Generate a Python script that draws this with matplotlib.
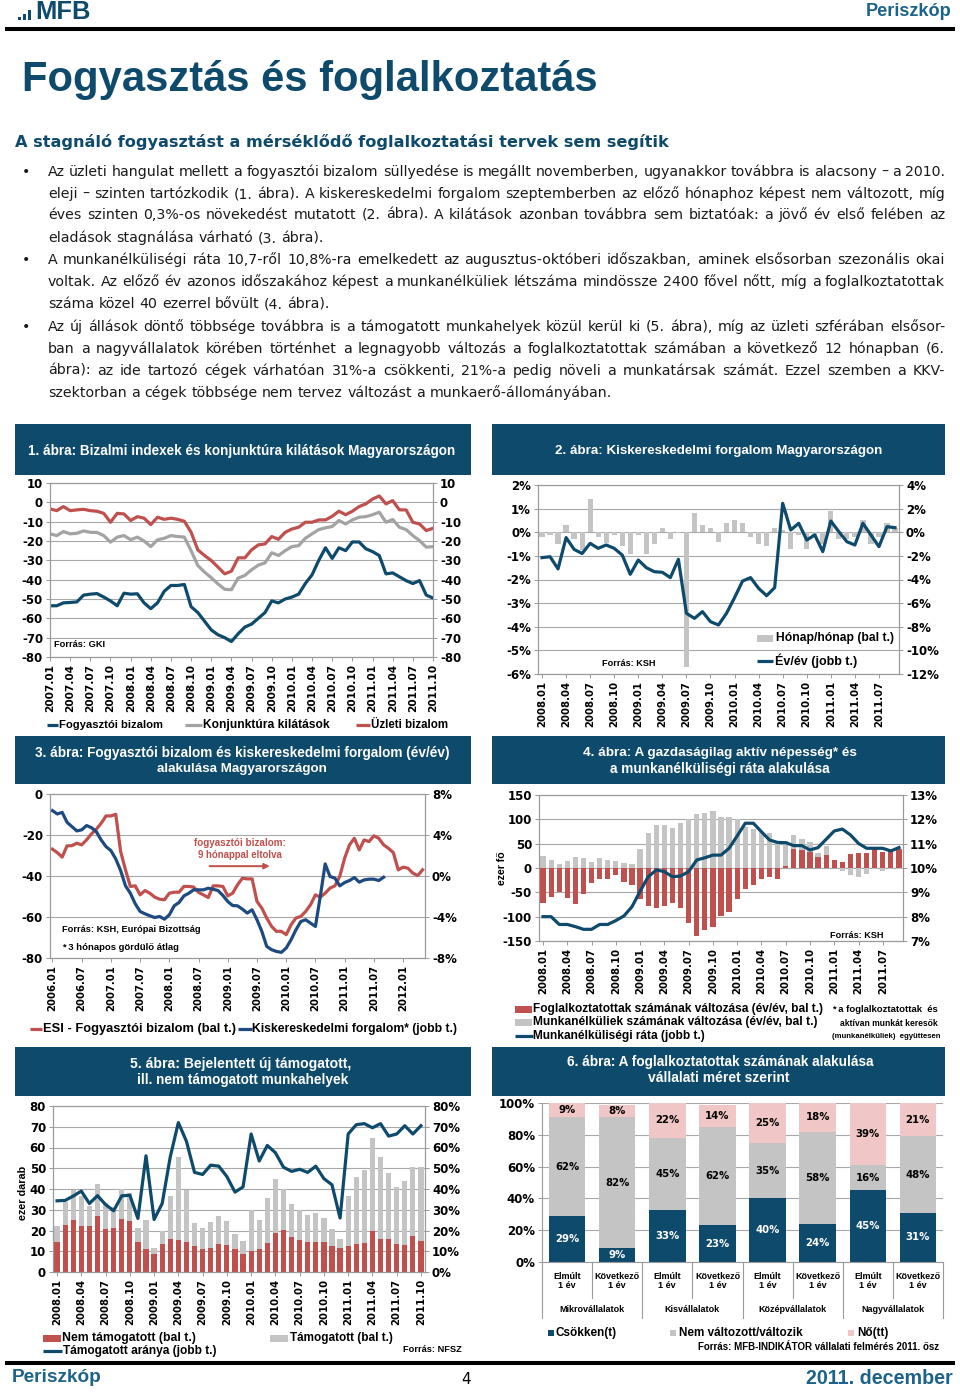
import numpy as np
import matplotlib
matplotlib.use('Agg')
import matplotlib.pyplot as plt
from matplotlib.patches import Rectangle
from matplotlib.lines import Line2D
from matplotlib import font_manager as fm

# ---------------- DATA ----------------
c1_ticks = ['2007.01', '2007.04', '2007.07', '2007.10', '2008.01', '2008.04', '2008.07', '2008.10',
            '2009.01', '2009.04', '2009.07', '2009.10', '2010.01', '2010.04', '2010.07', '2010.10',
            '2011.01', '2011.04', '2011.07', '2011.10']
c1_fogy = [-53.5, -53.5, -52, -51.8, -51.5, -48, -47.5, -47.2, -49, -51,
           -53.5, -47, -47.5, -47.3, -52, -55, -52, -46, -43, -43,
           -42.5, -54, -57, -61.5, -66, -68.5, -70, -72, -68, -64.5,
           -63, -60, -57, -51, -52, -50, -49, -47.5, -42, -37.5,
           -30, -23.5, -29, -23.5, -25, -20.5, -20.5, -24, -25.5, -27.5,
           -37, -36.5, -38.5, -40.5, -42, -40.5, -48, -49.5]
c1_konj = [-16.3, -17.2, -15.1, -16.3, -16, -14.8, -15.5, -15.6, -17.2, -20.6,
           -18, -17.2, -19.3, -18, -20, -22.9, -19.4, -18.6, -17.2, -17.7,
           -18, -25, -32.7, -36.1, -39, -42.2, -45, -45.2, -39.2, -37.8,
           -34.9, -32.5, -31.3, -26.1, -27.5, -25, -22.9, -22.4, -18.6, -16.3,
           -14.1, -13.2, -12.5, -9.4, -11.2, -9.1, -7.7, -7.4, -6.4, -5.1,
           -10.3, -8.9, -12.9, -14.1, -17.2, -19.8, -23.2, -22.9]
c1_uzleti = [-3.4, -4.3, -2.2, -4.3, -3.9, -3.6, -4.3, -4.6, -5.7, -10.3,
             -5.7, -6, -9.4, -7.4, -8.2, -11.5, -7.7, -8.8, -8.2, -8.8,
             -9.8, -15.5, -24.6, -27.5, -30.1, -33.5, -37, -35.6, -28.7, -28.7,
             -24.6, -22, -21.5, -17.7, -19.1, -15.5, -13.8, -12.9, -10.3, -10.3,
             -9.1, -9.1, -7.2, -4.6, -6.4, -4.6, -2.2, -0.8, 1.7, 3.3,
             -0.8, 0.9, -3.9, -3.9, -10.3, -11.2, -14.6, -13.4]
c1_legend = ['Fogyasztói bizalom', 'Konjunktúra kilátások', 'Üzleti bizalom']

c2_ticks = ['2008.01', '2008.04', '2008.07', '2008.10', '2009.01', '2009.04', '2009.07', '2009.10',
            '2010.01', '2010.04', '2010.07', '2010.10', '2011.01', '2011.04', '2011.07']
c2_mom = [-0.2, -0.1, -0.5, 0.3, -0.3, -0.75, 1.4, -0.2, -0.45, -0.1,
          -0.6, -0.9, -0.1, -0.9, -0.5, 0.2, -0.3, -0.05, -5.7, 0.8,
          0.3, 0.2, -0.4, 0.4, 0.5, 0.4, -0.2, -0.5, -0.6, 0.2,
          0.1, -0.7, -0.1, -0.7, -0.1, -0.5, 0.9, -0.3, -0.3, -0.2,
          0.5, -0.5, -0.2, 0.4, 0.2]
c2_yoy = [-2.15, -2.07, -3.1, -0.45, -1.45, -1.8, -0.94, -1.36, -1.08, -1.36,
          -1.93, -3.56, -2.35, -3.0, -3.34, -3.39, -3.84, -2.29, -6.86, -7.29,
          -6.72, -7.57, -7.85, -6.86, -5.54, -4.13, -3.84, -4.75, -5.37, -4.69,
          2.45, 0.19, 0.76, -0.66, -0.23, -1.64, 0.95, 0.05, -0.8, -1.08,
          0.76, -0.23, -1.22, 0.47, 0.39]

c3_ticks = ['2006.01', '2006.07', '2007.01', '2007.07', '2008.01', '2008.07', '2009.01', '2009.07',
            '2010.01', '2010.07', '2011.01', '2011.07', '2012.01']
c3_esi = [-26.9, -28.6, -30.8, -25.3, -25.2, -24, -24.8, -22.4, -19.5, -17.2,
          -14.3, -10.7, -10.7, -9.9, -28, -37, -45.1, -44.8, -49.2, -47.1,
          -48.4, -50.3, -51.3, -51.6, -48.4, -47.9, -47.9, -45.1, -45.1, -45.4,
          -48, -49.2, -50.5, -44.8, -44.8, -45.1, -49.7, -48.4, -44.3, -41.1,
          -41.4, -41.4, -52.4, -55.7, -60.5, -64.6, -67, -67, -68.6, -63.8,
          -60.5, -59.7, -57.3, -54, -49.2, -50.3, -48.4, -45.9, -44.8, -40.2,
          -31.3, -24.8, -21.6, -27.3, -22.4, -23.2, -20.4, -21.6, -24.8, -26.5,
          -28.6, -37, -35.7, -36.2, -38.6, -39.8, -37]
c3_retail = [6.38, 6.05, 6.21, 5.24, 4.82, 4.4, 4.5, 4.92, 4.72, 4.33,
             3.52, 2.87, 2.48, 1.67, 0.53, -0.96, -1.68, -2.71, -3.46, -3.69,
             -3.88, -4.05, -3.95, -4.21, -3.79, -2.91, -2.58, -1.94, -1.68, -1.35,
             -1.35, -1.35, -1.19, -1.29, -1.42, -1.9, -2.49, -2.88, -2.91, -3.23,
             -3.62, -3.3, -4.27, -5.41, -6.87, -7.19, -7.36, -7.45, -7.03, -6.22,
             -5.25, -4.44, -4.27, -4.6, -4.92, -2.0, 1.18, -0.05, -0.21, -0.96,
             -0.64, -0.44, -0.15, -0.6, -0.38, -0.31, -0.31, -0.44, -0.12]

c4_ticks = c2_ticks
c4_emp = [-71, -60, -50, -62, -74, -54, -30, -23, -23, -14,
          -28, -35, -64, -79, -83, -79, -72, -83, -113, -140,
          -127, -121, -99, -90, -64, -44, -35, -23, -18, -23,
          4, 39, 36, 32, 22, 27, 17, 13, 29, 30,
          30, 40, 33, 36, 40]
c4_unemp = [25, 17, 8, 14, 22, 20, 12, 21, 17, 14,
            10, 9, 40, 71, 89, 89, 82, 92, 100, 110,
            113, 117, 105, 105, 100, 85, 80, 73, 71, 55,
            55, 68, 60, 54, 30, 45, 10, -6, -15, -18,
            -12, -3, -7, -3, -2]
c4_rate = [8.0, 8.0, 7.68, 7.68, 7.59, 7.48, 7.48, 7.68, 7.68, 7.84,
           8.03, 8.41, 9.05, 9.64, 9.92, 9.85, 9.64, 9.67, 9.85, 10.33,
           10.42, 10.53, 10.53, 10.81, 11.32, 11.84, 11.84, 11.49, 11.15, 11.05,
           11.04, 10.92, 10.92, 10.74, 10.84, 11.18, 11.52, 11.60, 11.36, 11.01,
           10.81, 10.81, 10.81, 10.70, 10.84]

c5_ticks = ['2008.01', '2008.04', '2008.07', '2008.10', '2009.01', '2009.04', '2009.07', '2009.10',
            '2010.01', '2010.04', '2010.07', '2010.10', '2011.01', '2011.04', '2011.07', '2011.10']
c5_nem = [14.5, 22.5, 25, 22, 22, 27, 20.5, 21.2, 25.6, 24.5,
          14.5, 11.3, 8.9, 13.4, 16.1, 15.3, 14.5, 12.6, 11.3, 11.8,
          13.4, 13, 11.3, 8.5, 10, 11.3, 14.2, 19, 20.1, 16.9,
          15.3, 14.5, 14.3, 14.5, 12.4, 11.8, 12.4, 13.7, 14, 19.8,
          16.1, 16.1, 13.7, 13.2, 17.2, 15]
c5_tam = [7.5, 11.3, 14.5, 14.5, 10, 15.3, 12.8, 10.2, 14.4, 13.5,
          6.5, 14, 2.9, 6.4, 20.6, 39.9, 25, 11.1, 9.8, 12.4,
          13.8, 11.5, 6.9, 6.3, 20.1, 13.7, 21.7, 25.6, 19.8, 15.8,
          14.8, 12.9, 13.9, 11.6, 8.5, 4.3, 24.2, 31.9, 35.1, 44.6,
          39.1, 31.4, 27.3, 30.8, 33.5, 35.4]
c5_arany = [34.3, 34.5, 36.6, 39, 33, 36.8, 32.5, 29.5, 36.7, 37,
            25.8, 56, 25.3, 33, 55.5, 72, 63, 48, 47, 51.5,
            51, 46, 38.5, 41, 66.5, 53.5, 61, 57.5, 50.5, 48.5,
            49.5, 48, 51, 45, 42, 26, 66.5, 71, 71.5, 69.5,
            71.5, 65.5, 66.5, 70.5, 66.5, 70.5]

c6_cats = ['Elmúlt\n1 év', 'Következő\n1 év'] * 4
c6_groups = ['Mikrovállalatok', 'Kisvállalatok', 'Középvállalatok', 'Nagyvállalatok']
c6_csokken = [29, 9, 33, 23, 40, 24, 45, 31]
c6_nemvalt = [62, 82, 45, 62, 35, 58, 16, 48]
c6_no = [9, 8, 22, 14, 25, 18, 39, 21]

body_lines = [
    "Az üzleti hangulat mellett a fogyasztói bizalom süllyedése is megállt novemberben, ugyanakkor továbbra is alacsony – a 2010.",
    "eleji – szinten tartózkodik (1. ábra). A kiskereskedelmi forgalom szeptemberben az előző hónaphoz képest nem változott, míg",
    "éves szinten 0,3%-os növekedést mutatott (2. ábra). A kilátások azonban továbbra sem biztatóak: a jövő év első felében az",
    "eladások stagnálása várható (3. ábra).",
    "A munkanélküliségi ráta 10,7-ről 10,8%-ra emelkedett az augusztus-októberi időszakban, aminek elsősorban szezonális okai",
    "voltak. Az előző év azonos időszakához képest a munkanélküliek létszáma mindössze 2400 fővel nőtt, míg a foglalkoztatottak",
    "száma közel 40 ezerrel bővült (4. ábra).",
    "Az új állások döntő többsége továbbra is a támogatott munkahelyek közül kerül ki (5. ábra), míg az üzleti szférában elsősor-",
    "ban a nagyvállalatok körében történhet a legnagyobb változás a foglalkoztatottak számában a következő 12 hónapban (6.",
    "ábra): az ide tartozó cégek várhatóan 31%-a csökkenti, 21%-a pedig növeli a munkatársak számát. Ezzel szemben a KKV-",
    "szektorban a cégek többsége nem tervez változást a munkaerő-állományában.",
]
bullet_rows = [0, 4, 7]
last_rows = [3, 6, 10]

# ---------------- STYLE ----------------
names = {f.name for f in fm.fontManager.ttflist}
NARROW = 'Liberation Sans Narrow' if 'Liberation Sans Narrow' in names else 'Liberation Sans'
BODY = 'DejaVu Sans'
plt.rcParams['font.family'] = BODY
plt.rcParams['font.weight'] = 'bold'
plt.rcParams['axes.unicode_minus'] = False

NAVY = '#0e4a6c'
BLUE3 = '#1d4a80'
RED = '#c0504d'
GRAYL = '#a3a3a3'
GRAYB = '#c4c4c4'
PINK = '#f1c6c6'
GRID = '#a8a8a8'
SPC = '#9a9a9a'
TEXTC = '#1a1a1a'

W, H = 960, 1394
fig = plt.figure(figsize=(W / 100, H / 100), dpi=100)
R = fig.canvas.get_renderer()


def fx(x):
    return x / W


def fy(y):
    return 1 - y / H


def txt(x, y, s, **kw):
    return fig.text(fx(x), fy(y), s, **kw)


def fit(t, length):
    t.set_fontsize(10)
    bb = t.get_window_extent(R)
    rot = t.get_rotation() % 180
    w = bb.height if abs(rot - 90) < 1 else bb.width
    t.set_fontsize(10 * length / w)
    return t


def ftext(x0, x1, y, s, ha='left', family=NARROW, size=None, **kw):
    x = x0 if ha == 'left' else ((x0 + x1) / 2 if ha == 'center' else x1)
    t = txt(x, y, s, ha=ha, va='center', family=family, **kw)
    if size is None:
        return fit(t, x1 - x0)
    t.set_fontsize(size)
    return t


def rect(x0, y0, x1, y1, color):
    fig.add_artist(Rectangle((fx(x0), fy(y1)), fx(x1) - fx(x0), fy(y0) - fy(y1),
                             transform=fig.transFigure, facecolor=color, lw=0))


def hline(x0, x1, y, color, lw):
    fig.add_artist(Line2D([fx(x0), fx(x1)], [fy(y), fy(y)], transform=fig.transFigure,
                          color=color, lw=lw, solid_capstyle='butt'))


def axes_px(x0, y0, x1, y1):
    return fig.add_axes([fx(x0), fy(y1), fx(x1) - fx(x0), fy(y0) - fy(y1)])


def measure(s, size, family=BODY, weight='normal'):
    t = fig.text(0, 0, s, fontsize=size, family=family, fontweight=weight)
    w = t.get_window_extent(R).width
    t.remove()
    return w


def setup(ax, twin=None, ysize=8.5):
    for a in [ax] + ([twin] if twin is not None else []):
        for s in a.spines.values():
            s.set_color(SPC)
            s.set_linewidth(0.8)
        a.tick_params(axis='both', labelsize=ysize, length=3, width=0.7, color=SPC, pad=2)
    ax.yaxis.grid(True, color=GRID, lw=0.8)
    ax.set_axisbelow(True)


def xlabels(ax, pos, labels, size=7.3):
    ax.set_xticks(pos)
    ax.set_xticklabels(labels, rotation=90, fontsize=size)


# ---------------- HEADER ----------------
for bx, bh in [(18, 3), (23, 6), (28, 10)]:
    rect(bx, 20 - bh, bx + 3, 20, NAVY)
ftext(35, 90, 12, 'MFB', family=NARROW, fontweight='bold', color=NAVY)
ftext(866, 952, 11, 'Periszkóp', family=NARROW, fontweight='bold', color='#1d6389')
hline(5, 955, 29, 'black', 2.9)

ftext(22, 597, 80, 'Fogyasztás és foglalkoztatás', family=NARROW, fontweight='bold', color=NAVY)
ftext(15, 665, 142, 'A stagnáló fogyasztást a mérséklődő foglalkoztatási tervek sem segítik',
      family=BODY, fontweight='bold', color=NAVY)

# ---------------- BODY (justified) ----------------
body_y = [176, 198, 219, 242, 264, 286, 308, 331, 353, 375, 397]
TW = 897
sp10 = measure('a a', 10) - measure('aa', 10)
nat = []
for L in body_lines:
    ws = L.split()
    nat.append(sum(measure(w, 10) for w in ws) + sp10 * (len(ws) - 1))
bs = 10 * TW / max(nat)
sp = sp10 * bs / 10
for k, L in enumerate(body_lines):
    ws = L.split()
    wid = [measure(w, bs) for w in ws]
    gap = sp if k in last_rows else (TW - sum(wid)) / (len(ws) - 1)
    x = 48
    for w, ww in zip(ws, wid):
        txt(x, body_y[k], w, fontsize=bs, fontweight='normal', va='baseline', color=TEXTC)
        x += ww + gap
    if k in bullet_rows:
        txt(22, body_y[k], '•', fontsize=bs, fontweight='normal', va='baseline', color=TEXTC)

# ---------------- TITLE BANDS ----------------
for (x0, x1) in [(15, 471), (492, 945)]:
    for (y0, y1) in [(424, 475), (736, 784), (1047, 1096)]:
        rect(x0, y0, x1, y1, NAVY)
ftext(28, 455, 451, '1. ábra: Bizalmi indexek és konjunktúra kilátások Magyarországon', fontweight='bold', color='white')
ftext(555, 885, 451, '2. ábra: Kiskereskedelmi forgalom Magyarországon', fontweight='bold', color='white')
ftext(35, 450, 753, '3. ábra: Fogyasztói bizalom és kiskereskedelmi forgalom (év/év)', fontweight='bold', color='white')
ftext(157, 327, 769, 'alakulása Magyarországon', fontweight='bold', color='white')
ftext(583, 857, 753, '4. ábra: A gazdaságilag aktív népesség* és', fontweight='bold', color='white')
ftext(610, 829, 769, 'a munkanélküliségi ráta alakulása', fontweight='bold', color='white')
ftext(130, 352, 1064, '5. ábra: Bejelentett új támogatott,', fontweight='bold', color='white')
ftext(137, 348, 1080, 'ill. nem támogatott munkahelyek', fontweight='bold', color='white')
ftext(567, 873, 1062, '6. ábra: A foglalkoztatottak számának alakulása', fontweight='bold', color='white')
ftext(648, 790, 1078, 'vállalati méret szerint', fontweight='bold', color='white')

# ---------------- CHART 1 ----------------
ax1 = axes_px(50, 483, 433, 657)
tw1 = ax1.twinx()
setup(ax1, tw1)
x1 = np.arange(len(c1_fogy))
ax1.plot(x1, c1_konj, color=GRAYL, lw=2.3)
ax1.plot(x1, c1_uzleti, color=RED, lw=2.3)
ax1.plot(x1, c1_fogy, color=NAVY, lw=2.3)
ax1.set_xlim(0, len(x1) - 1)
yt1 = np.arange(-80, 11, 10)
for a in (ax1, tw1):
    a.set_ylim(-80, 10)
    a.set_yticks(yt1)
    a.set_yticklabels([str(v) for v in yt1])
xlabels(ax1, range(0, len(x1), 3), c1_ticks, 7.6)
ftext(54, 105, 645, 'Forrás: GKI', fontweight='bold', color='black')
for (lx0, lx1, tx0, tx1, col, lab) in [(47, 58, 59, 163, NAVY, c1_legend[0]),
                                        (185, 202, 203, 328, GRAYL, c1_legend[1]),
                                        (356, 370, 371, 448, RED, c1_legend[2])]:
    hline(lx0, lx1, 725, col, 2.3)
    ftext(tx0, tx1, 725, lab, fontweight='bold', color='black')

# ---------------- CHART 2 ----------------
ax2 = axes_px(538, 485, 899, 674)
tw2 = ax2.twinx()
setup(ax2, tw2)
x2 = np.arange(len(c2_mom))
ax2.bar(x2, c2_mom, width=0.65, color=GRAYB)
tw2.plot(x2, c2_yoy, color=NAVY, lw=2.3)
ax2.set_xlim(-0.5, len(x2) - 0.5)
ax2.set_ylim(-6, 2)
ax2.set_yticks(range(-6, 3))
ax2.set_yticklabels([f'{v}%' for v in range(-6, 3)])
tw2.set_ylim(-12, 4)
tw2.set_yticks(range(-12, 5, 2))
tw2.set_yticklabels([f'{v}%' for v in range(-12, 5, 2)])
xlabels(ax2, range(0, len(x2), 3), c2_ticks)
rect(757, 635, 773, 642, GRAYB)
ftext(776, 893, 638, 'Hónap/hónap (bal t.)', fontweight='bold', color='black')
hline(757, 773, 661, NAVY, 2.3)
ftext(775, 857, 661, 'Év/év (jobb t.)', fontweight='bold', color='black')
ftext(602, 655, 664, 'Forrás: KSH', fontweight='bold', color='black')

# ---------------- CHART 3 ----------------
ax3 = axes_px(50, 794, 425, 958)
tw3 = ax3.twinx()
setup(ax3, tw3)
x3 = np.arange(len(c3_esi))
ax3.plot(x3, c3_esi, color=RED, lw=2.3)
tw3.plot(np.arange(len(c3_retail)), c3_retail, color=BLUE3, lw=2.3)
ax3.set_xlim(-0.5, len(x3) - 0.5)
ax3.set_ylim(-80, 0)
ax3.set_yticks(range(-80, 1, 20))
ax3.set_yticklabels([str(v) for v in range(-80, 1, 20)])
tw3.set_ylim(-8, 8)
tw3.set_yticks(range(-8, 9, 4))
tw3.set_yticklabels([f'{v}%' for v in range(-8, 9, 4)])
xlabels(ax3, range(0, len(x3), 6), c3_ticks)
t = ax3.text(38.5, -24, 'fogyasztói bizalom:', ha='center', va='center', color=RED, family=NARROW)
fit(t, 92)
t = ax3.text(38.5, -29.8, '9 hónappal eltolva', ha='center', va='center', color=RED, family=NARROW)
fit(t, 84)
ax3.annotate('', xy=(45.2, -35.2), xytext=(31.7, -35.2),
             arrowprops=dict(arrowstyle='-|>', color=RED, lw=1.4, mutation_scale=8))
ftext(62, 200, 930, 'Forrás: KSH, Európai Bizottság', fontweight='bold', color='black')
ftext(62, 178, 948, '* 3 hónapos gördülő átlag', fontweight='bold', color='black')
hline(30, 42, 1029, RED, 2.3)
ftext(43, 235, 1029, 'ESI - Fogyasztói bizalom (bal t.)', fontweight='bold', color='black')
hline(238, 252, 1029, BLUE3, 2.3)
ftext(252, 457, 1029, 'Kiskereskedelmi forgalom* (jobb t.)', fontweight='bold', color='black')

# ---------------- CHART 4 ----------------
ax4 = axes_px(539, 795, 903, 941)
tw4 = ax4.twinx()
setup(ax4, tw4)
x4 = np.arange(len(c4_emp))
ax4.bar(x4, c4_unemp, width=0.65, color=GRAYB)
ax4.bar(x4, c4_emp, width=0.65, color=RED)
tw4.plot(x4, c4_rate, color=NAVY, lw=2.3)
ax4.set_xlim(-0.5, len(x4) - 0.5)
ax4.set_ylim(-150, 150)
ax4.set_yticks(range(-150, 151, 50))
ax4.set_yticklabels([str(v) for v in range(-150, 151, 50)])
tw4.set_ylim(7, 13)
tw4.set_yticks(range(7, 14))
tw4.set_yticklabels([f'{v}%' for v in range(7, 14)])
xlabels(ax4, range(0, len(x4), 3), c4_ticks)
t = txt(502, 868, 'ezer fő', rotation=90, ha='center', va='center', family=NARROW, color='black')
fit(t, 34)
ftext(830, 883, 936, 'Forrás: KSH', fontweight='bold', color='black')
rect(515, 1006, 532, 1013, RED)
ftext(533, 823, 1009, 'Foglalkoztatottak számának változása (év/év, bal t.)', fontweight='bold', color='black')
rect(515, 1019, 532, 1026, GRAYB)
ftext(533, 815, 1022, 'Munkanélküliek számának változása (év/év, bal t.)', fontweight='bold', color='black')
hline(515, 533, 1036, NAVY, 2.3)
ftext(533, 705, 1036, 'Munkanélküliségi ráta (jobb t.)', fontweight='bold', color='black')
ftext(833, 938, 1010, '* a foglalkoztatottak  és', ha='right', fontweight='bold', color='black')
ftext(841, 938, 1023, 'aktívan munkát keresők', ha='right', fontweight='bold', color='black')
ftext(831, 940, 1036, '(munkanélküliek)  együttesen', ha='right', fontweight='bold', color='black')

# ---------------- CHART 5 ----------------
ax5 = axes_px(53, 1106, 425, 1272)
tw5 = ax5.twinx()
setup(ax5, tw5)
x5 = np.arange(len(c5_nem))
ax5.bar(x5, c5_nem, width=0.65, color=RED)
ax5.bar(x5, c5_tam, bottom=c5_nem, width=0.65, color=GRAYB)
tw5.plot(x5, c5_arany, color=NAVY, lw=2.3)
ax5.set_xlim(-0.5, len(x5) - 0.5)
ax5.set_ylim(0, 80)
ax5.set_yticks(range(0, 81, 10))
ax5.set_yticklabels([str(v) for v in range(0, 81, 10)])
tw5.set_ylim(0, 80)
tw5.set_yticks(range(0, 81, 10))
tw5.set_yticklabels([f'{v}%' for v in range(0, 81, 10)])
xlabels(ax5, range(0, len(x5), 3), c5_ticks)
t = txt(23, 1193, 'ezer darab', rotation=90, ha='center', va='center', family=NARROW, color='black')
fit(t, 54)
rect(43, 1335, 61, 1342, RED)
ftext(62, 195, 1338, 'Nem támogatott (bal t.)', fontweight='bold', color='black')
rect(270, 1335, 288, 1342, GRAYB)
ftext(290, 393, 1338, 'Támogatott (bal t.)', fontweight='bold', color='black')
hline(43, 62, 1351, NAVY, 2.3)
ftext(63, 217, 1351, 'Támogatott aránya (jobb t.)', fontweight='bold', color='black')
ftext(403, 462, 1350, 'Forrás: NFSZ', fontweight='bold', color='black')

# ---------------- CHART 6 ----------------
ax6 = axes_px(542, 1103, 943, 1262)
for s in ax6.spines.values():
    s.set_color(SPC)
    s.set_linewidth(0.8)
ax6.spines['right'].set_visible(False)
ax6.spines['top'].set_visible(False)
ax6.tick_params(axis='y', labelsize=8.5, length=3, width=0.7, color=SPC, pad=2)
ax6.yaxis.grid(True, color=GRID, lw=0.8)
ax6.set_axisbelow(True)
x6 = np.arange(len(c6_csokken))
b1 = np.array(c6_csokken)
b2 = np.array(c6_nemvalt)
b3 = np.array(c6_no)
ax6.bar(x6, b1, width=0.73, color=NAVY)
ax6.bar(x6, b2, bottom=b1, width=0.73, color=GRAYB)
ax6.bar(x6, b3, bottom=b1 + b2, width=0.73, color=PINK)
for i in x6:
    ax6.text(i, b1[i] / 2, f'{b1[i]}%', ha='center', va='center', color='white', fontsize=7.3)
    ax6.text(i, b1[i] + b2[i] / 2, f'{b2[i]}%', ha='center', va='center', color='black', fontsize=7.3)
    ax6.text(i, b1[i] + b2[i] + b3[i] / 2, f'{b3[i]}%', ha='center', va='center', color='black', fontsize=7.3)
ax6.set_xlim(-0.5, len(x6) - 0.5)
ax6.set_ylim(0, 100)
ax6.set_yticks(range(0, 101, 20))
ax6.set_yticklabels([f'{v}%' for v in range(0, 101, 20)])
ax6.set_xticks([])
xt6 = ax6.get_xaxis_transform()
catsize = 10 * 45 / measure('Következő', 10, family=NARROW, weight='bold')
for i, lab in enumerate(c6_cats):
    ax6.text(i, -0.12, lab, transform=xt6, ha='center', va='center', family=NARROW,
             fontsize=catsize, linespacing=1.05)
for g, lab in enumerate(c6_groups):
    ax6.text(2 * g + 0.5, -0.296, lab, transform=xt6, ha='center', va='center',
             family=NARROW, fontsize=catsize)
for k in range(len(x6) + 1):
    xs = k - 0.5
    yb = -0.35 if k % 2 == 0 else -0.225
    ax6.plot([xs, xs], [0, yb], transform=xt6, color=SPC, lw=0.8, clip_on=False)
rect(548, 1330, 554, 1336, NAVY)
lsz = ftext(556, 617, 1333, 'Csökken(t)', fontweight='bold', color='black').get_fontsize()
rect(670, 1330, 676, 1336, GRAYB)
ftext(679, 805, 1333, 'Nem változott/változik', fontweight='bold', color='black', size=lsz)
rect(848, 1330, 854, 1336, PINK)
ftext(857, 898, 1333, 'Nő(tt)', fontweight='bold', color='black', size=lsz)
ftext(698, 940, 1347, 'Forrás: MFB-INDIKÁTOR vállalati felmérés 2011. ősz', fontweight='bold', color='black')

# ---------------- FOOTER ----------------
hline(5, 955, 1363, 'black', 2.9)
ftext(12, 102, 1378, 'Periszkóp', fontweight='bold', color='#1d6389')
txt(466, 1380, '4', ha='center', va='center', fontsize=11, fontweight='normal', color='black')
ftext(806, 954, 1378, '2011. december', fontweight='bold', color='#1d6389')

fig.savefig('out.png', dpi=100)
